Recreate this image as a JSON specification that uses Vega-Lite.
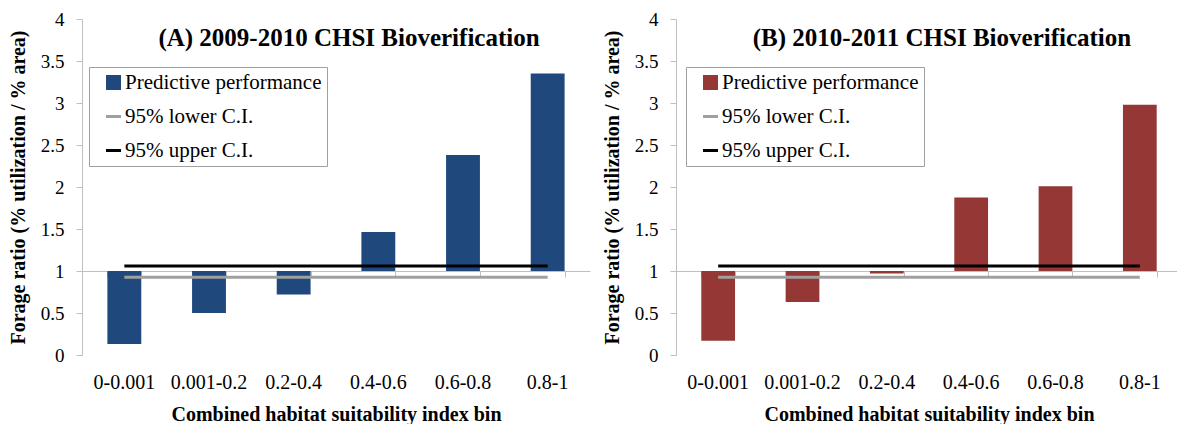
{
  "$schema": "https://vega.github.io/schema/vega-lite/v6.json",
  "padding": {"left": 8, "top": 10, "right": 0, "bottom": 0},
  "background": "white",
  "config": {
    "view": {"stroke": null},
    "font": "Liberation Serif",
    "concat": {"spacing": 12},
    "axis": {"grid": false, "labelFont": "Liberation Serif", "titleFont": "Liberation Serif", "labelColor": "black", "titleColor": "black"},
    "legend": {"labelFont": "Liberation Serif"},
    "title": {"font": "Liberation Serif"}
  },
  "resolve": {"scale": {"color": "independent", "y": "independent", "x": "independent"}, "legend": {"color": "independent"}},
  "datasets": {
    "a": [
      {"bin": "0-0.001", "series": "Predictive performance", "value": 0.13},
      {"bin": "0.001-0.2", "series": "Predictive performance", "value": 0.5},
      {"bin": "0.2-0.4", "series": "Predictive performance", "value": 0.72},
      {"bin": "0.4-0.6", "series": "Predictive performance", "value": 1.465},
      {"bin": "0.6-0.8", "series": "Predictive performance", "value": 2.38},
      {"bin": "0.8-1", "series": "Predictive performance", "value": 3.35},
      {"bin": "0-0.001", "series": "95% lower C.I.", "value": 0.925},
      {"bin": "0.001-0.2", "series": "95% lower C.I.", "value": 0.925},
      {"bin": "0.2-0.4", "series": "95% lower C.I.", "value": 0.925},
      {"bin": "0.4-0.6", "series": "95% lower C.I.", "value": 0.925},
      {"bin": "0.6-0.8", "series": "95% lower C.I.", "value": 0.925},
      {"bin": "0.8-1", "series": "95% lower C.I.", "value": 0.925},
      {"bin": "0-0.001", "series": "95% upper C.I.", "value": 1.06},
      {"bin": "0.001-0.2", "series": "95% upper C.I.", "value": 1.06},
      {"bin": "0.2-0.4", "series": "95% upper C.I.", "value": 1.06},
      {"bin": "0.4-0.6", "series": "95% upper C.I.", "value": 1.06},
      {"bin": "0.6-0.8", "series": "95% upper C.I.", "value": 1.06},
      {"bin": "0.8-1", "series": "95% upper C.I.", "value": 1.06}
    ],
    "b": [
      {"bin": "0-0.001", "series": "Predictive performance", "value": 0.17},
      {"bin": "0.001-0.2", "series": "Predictive performance", "value": 0.63},
      {"bin": "0.2-0.4", "series": "Predictive performance", "value": 0.97},
      {"bin": "0.4-0.6", "series": "Predictive performance", "value": 1.875},
      {"bin": "0.6-0.8", "series": "Predictive performance", "value": 2.01},
      {"bin": "0.8-1", "series": "Predictive performance", "value": 2.98},
      {"bin": "0-0.001", "series": "95% lower C.I.", "value": 0.925},
      {"bin": "0.001-0.2", "series": "95% lower C.I.", "value": 0.925},
      {"bin": "0.2-0.4", "series": "95% lower C.I.", "value": 0.925},
      {"bin": "0.4-0.6", "series": "95% lower C.I.", "value": 0.925},
      {"bin": "0.6-0.8", "series": "95% lower C.I.", "value": 0.925},
      {"bin": "0.8-1", "series": "95% lower C.I.", "value": 0.925},
      {"bin": "0-0.001", "series": "95% upper C.I.", "value": 1.06},
      {"bin": "0.001-0.2", "series": "95% upper C.I.", "value": 1.06},
      {"bin": "0.2-0.4", "series": "95% upper C.I.", "value": 1.06},
      {"bin": "0.4-0.6", "series": "95% upper C.I.", "value": 1.06},
      {"bin": "0.6-0.8", "series": "95% upper C.I.", "value": 1.06},
      {"bin": "0.8-1", "series": "95% upper C.I.", "value": 1.06}
    ]
  },
  "hconcat": [
    {
      "width": 508,
      "height": 336,
      "title": {"text": "(A) 2009-2010 CHSI Bioverification", "fontSize": 25, "fontWeight": "bold", "font": "Liberation Serif", "offset": -41, "dx": 13, "color": "black"},
      "data": {"name": "a"},
      "resolve": {"axis": {"x": "independent"}},
      "encoding": {
        "x": {"field": "bin", "type": "nominal", "sort": ["0-0.001", "0.001-0.2", "0.2-0.4", "0.4-0.6", "0.6-0.8", "0.8-1"],
              "scale": {"paddingInner": 0.6, "paddingOuter": 0.3}},
        "y": {"field": "value", "type": "quantitative", "scale": {"domain": [0, 4], "nice": false},
              "axis": {"values": [0, 0.5, 1, 1.5, 2, 2.5, 3, 3.5, 4], "format": "~g", "title": "Forage ratio (% utilization / % area)", "titleFont": "Liberation Serif", "labelFont": "Liberation Serif", "titleFontSize": 20, "titleFontWeight": "bold", "labelFontSize": 19, "domainColor": "#bfbfbf", "tickColor": "#bfbfbf", "tickSize": 6, "labelPadding": 12, "titlePadding": 12}},
        "color": {"field": "series", "type": "nominal",
                  "scale": {"domain": ["Predictive performance", "95% lower C.I.", "95% upper C.I."], "range": ["#1f497d", "#a0a0a0", "#000000"]}}
      },
      "layer": [
        {
          "transform": [{"filter": "datum.series === 'Predictive performance'"}],
          "mark": {"type": "bar"},
          "encoding": {
            "x": {"field": "bin", "type": "nominal", "sort": ["0-0.001", "0.001-0.2", "0.2-0.4", "0.4-0.6", "0.6-0.8", "0.8-1"],
                  "axis": {"orient": "bottom", "title": "Combined habitat suitability index bin", "titleFont": "Liberation Serif", "labelFont": "Liberation Serif", "titleFontSize": 20, "titleFontWeight": "bold", "labelFontSize": 20, "labelAngle": 0, "domain": false, "ticks": false, "labelPadding": 17, "titlePadding": 12}},
            "y2": {"datum": 1},
            "color": {"field": "series", "type": "nominal",
                      "legend": {"orient": "none", "legendX": 7, "legendY": 48, "title": null, "labelFontSize": 21, "labelFont": "Liberation Serif", "labelColor": "black", "labelLimit": 400, "strokeColor": "#a0a0a0", "padding": 5, "rowPadding": 12, "symbolSize": 225, "symbolOffset": 9, "labelOffset": 1,
                                 "encode": {"symbols": {"update": {
                                   "shape": {"signal": "datum.value === 'Predictive performance' ? 'square' : 'stroke'"},
                                   "strokeWidth": {"signal": "datum.value === 'Predictive performance' ? 0 : 3"},
                                   "fill": {"signal": "datum.value === 'Predictive performance' ? '#1f497d' : 'transparent'"},
                                   "stroke": {"signal": "datum.value === '95% lower C.I.' ? '#a0a0a0' : datum.value === '95% upper C.I.' ? '#000000' : '#1f497d'"}
                                 }}}}}
          }
        },
        {
          "transform": [{"filter": "datum.series !== 'Predictive performance'"}],
          "mark": {"type": "line", "strokeWidth": 3},
          "encoding": {
            "x": {"field": "bin", "type": "nominal", "sort": ["0-0.001", "0.001-0.2", "0.2-0.4", "0.4-0.6", "0.6-0.8", "0.8-1"],
                  "axis": {"orient": "bottom", "offset": -84, "title": null, "labels": false, "domainColor": "#bfbfbf", "tickColor": "#bfbfbf", "tickBand": "extent", "tickSize": 6}}
          }
        }
      ]
    },
    {
      "width": 506,
      "height": 336,
      "title": {"text": "(B) 2010-2011 CHSI Bioverification", "fontSize": 25, "fontWeight": "bold", "font": "Liberation Serif", "offset": -41, "dx": 13, "color": "black"},
      "data": {"name": "b"},
      "resolve": {"axis": {"x": "independent"}},
      "encoding": {
        "x": {"field": "bin", "type": "nominal", "sort": ["0-0.001", "0.001-0.2", "0.2-0.4", "0.4-0.6", "0.6-0.8", "0.8-1"],
              "scale": {"paddingInner": 0.6, "paddingOuter": 0.3}},
        "y": {"field": "value", "type": "quantitative", "scale": {"domain": [0, 4], "nice": false},
              "axis": {"values": [0, 0.5, 1, 1.5, 2, 2.5, 3, 3.5, 4], "format": "~g", "title": "Forage ratio (% utilization / % area)", "titleFont": "Liberation Serif", "labelFont": "Liberation Serif", "titleFontSize": 20, "titleFontWeight": "bold", "labelFontSize": 19, "domainColor": "#bfbfbf", "tickColor": "#bfbfbf", "tickSize": 6, "labelPadding": 12, "titlePadding": 12}},
        "color": {"field": "series", "type": "nominal",
                  "scale": {"domain": ["Predictive performance", "95% lower C.I.", "95% upper C.I."], "range": ["#953735", "#a0a0a0", "#000000"]}}
      },
      "layer": [
        {
          "transform": [{"filter": "datum.series === 'Predictive performance'"}],
          "mark": {"type": "bar"},
          "encoding": {
            "x": {"field": "bin", "type": "nominal", "sort": ["0-0.001", "0.001-0.2", "0.2-0.4", "0.4-0.6", "0.6-0.8", "0.8-1"],
                  "axis": {"orient": "bottom", "title": "Combined habitat suitability index bin", "titleFont": "Liberation Serif", "labelFont": "Liberation Serif", "titleFontSize": 20, "titleFontWeight": "bold", "labelFontSize": 20, "labelAngle": 0, "domain": false, "ticks": false, "labelPadding": 17, "titlePadding": 12}},
            "y2": {"datum": 1},
            "color": {"field": "series", "type": "nominal",
                      "legend": {"orient": "none", "legendX": 10, "legendY": 48, "title": null, "labelFontSize": 21, "labelFont": "Liberation Serif", "labelColor": "black", "labelLimit": 400, "strokeColor": "#a0a0a0", "padding": 5, "rowPadding": 12, "symbolSize": 225, "symbolOffset": 9, "labelOffset": 1,
                                 "encode": {"symbols": {"update": {
                                   "shape": {"signal": "datum.value === 'Predictive performance' ? 'square' : 'stroke'"},
                                   "strokeWidth": {"signal": "datum.value === 'Predictive performance' ? 0 : 3"},
                                   "fill": {"signal": "datum.value === 'Predictive performance' ? '#953735' : 'transparent'"},
                                   "stroke": {"signal": "datum.value === '95% lower C.I.' ? '#a0a0a0' : datum.value === '95% upper C.I.' ? '#000000' : '#953735'"}
                                 }}}}}
          }
        },
        {
          "transform": [{"filter": "datum.series !== 'Predictive performance'"}],
          "mark": {"type": "line", "strokeWidth": 3},
          "encoding": {
            "x": {"field": "bin", "type": "nominal", "sort": ["0-0.001", "0.001-0.2", "0.2-0.4", "0.4-0.6", "0.6-0.8", "0.8-1"],
                  "axis": {"orient": "bottom", "offset": -84, "title": null, "labels": false, "domainColor": "#bfbfbf", "tickColor": "#bfbfbf", "tickBand": "extent", "tickSize": 6}}
          }
        }
      ]
    }
  ]
}
